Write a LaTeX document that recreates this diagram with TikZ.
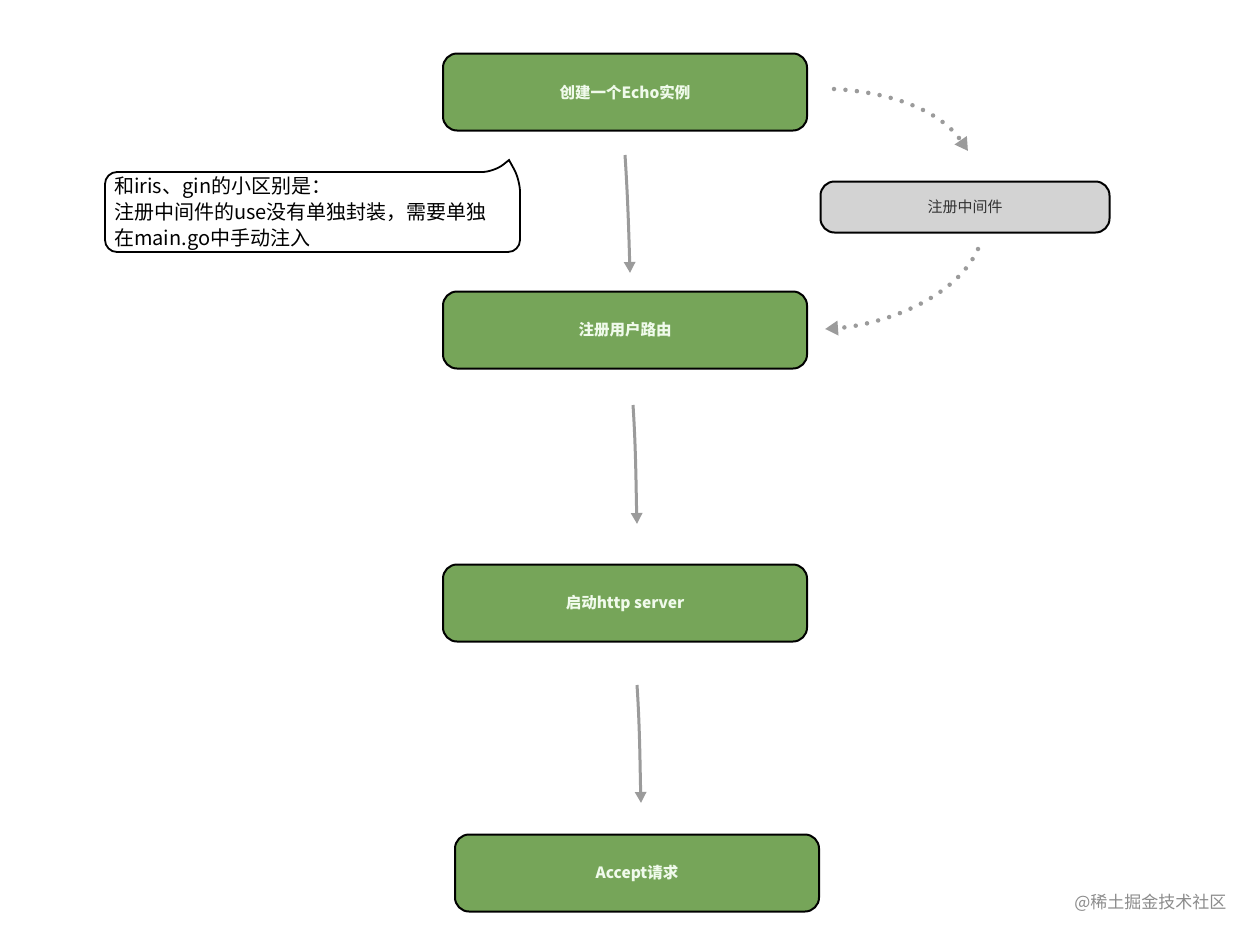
\documentclass[tikz,border=0pt]{standalone}
\usepackage{fontspec}
\setmainfont{Noto Sans CJK SC}
\usetikzlibrary{arrows.meta}
\definecolor{boxgreen}{RGB}{118,165,89}
\definecolor{boxgray}{RGB}{211,211,211}
\definecolor{arrgray}{RGB}{155,155,155}
\definecolor{txtwhite}{RGB}{240,250,235}
\begin{document}
\begin{tikzpicture}[x=1pt,y=-1pt,
  greenbox/.style={draw=black,line width=2pt,fill=boxgreen,rounded corners=14pt,
    minimum width=364pt,minimum height=77pt,font=\fontsize{15.5}{18}\selectfont\bfseries,text=txtwhite},
  graybox/.style={draw=black,line width=2pt,fill=boxgray,rounded corners=14pt,
    minimum width=289pt,minimum height=51pt,font=\fontsize{15}{18}\selectfont,text=black!80},
  flow/.style={draw=arrgray,line width=3pt,-{Triangle[length=11pt,width=11pt]}},
  dotflow/.style={draw=arrgray,line width=4.5pt,line cap=round,dash pattern=on 0pt off 11.5pt,
    -{Triangle[length=13pt,width=14pt]}}]
\useasboundingbox (0,0) rectangle (1254,938);
\fill[white] (0,0) rectangle (1254,938);

\node[greenbox] (echo) at (625,92) {创建一个Echo实例};
\node[greenbox] (route) at (625,330) {注册用户路由};
\node[greenbox] (http) at (625,603) {启动http server};
\node[greenbox] (accept) at (637,873) {Accept请求};
\node[graybox] (mw) at (965,207) {注册中间件};

% callout
\draw[line width=1.8pt,fill=white,rounded corners=12pt]
  (105,172) -- (494,172) [sharp corners]-- (509,160) [rounded corners=12pt] -- (520,180) -- (520,252) -- (105,252) -- cycle;
\node[anchor=north west,align=left,font=\fontsize{20}{26}\selectfont,inner sep=0pt] (note) at (114,176)
  {和iris、gin的小区别是：\\注册中间件的use没有单独封装，需要单独\\在main.go中手动注入};

% coordinates for connectors
\coordinate (a1s) at (625,155); \coordinate (a1e) at (630,273);
\coordinate (a2s) at (633,405); \coordinate (a2e) at (637,524);
\coordinate (a3s) at (637,685); \coordinate (a3e) at (641,803);
\draw[flow] (a1s) .. controls (628,200) and (629,240) .. (a1e);
\draw[flow] (a2s) .. controls (636,450) and (636,490) .. (a2e);
\draw[flow] (a3s) .. controls (640,730) and (640,770) .. (a3e);

\coordinate (d1s) at (834,89); \coordinate (d1e) at (968,151);
\coordinate (d2s) at (978,249); \coordinate (d2e) at (825,329);
\draw[dotflow] (d1s) .. controls (890,92) and (940,110) .. (d1e);
\draw[dotflow] (d2s) .. controls (955,300) and (880,325) .. (d2e);

\node[font=\fontsize{17}{20}\selectfont,text=black!45,anchor=east] (wm) at (1230,903) {@稀土掘金技术社区};
\end{tikzpicture}
\end{document}
